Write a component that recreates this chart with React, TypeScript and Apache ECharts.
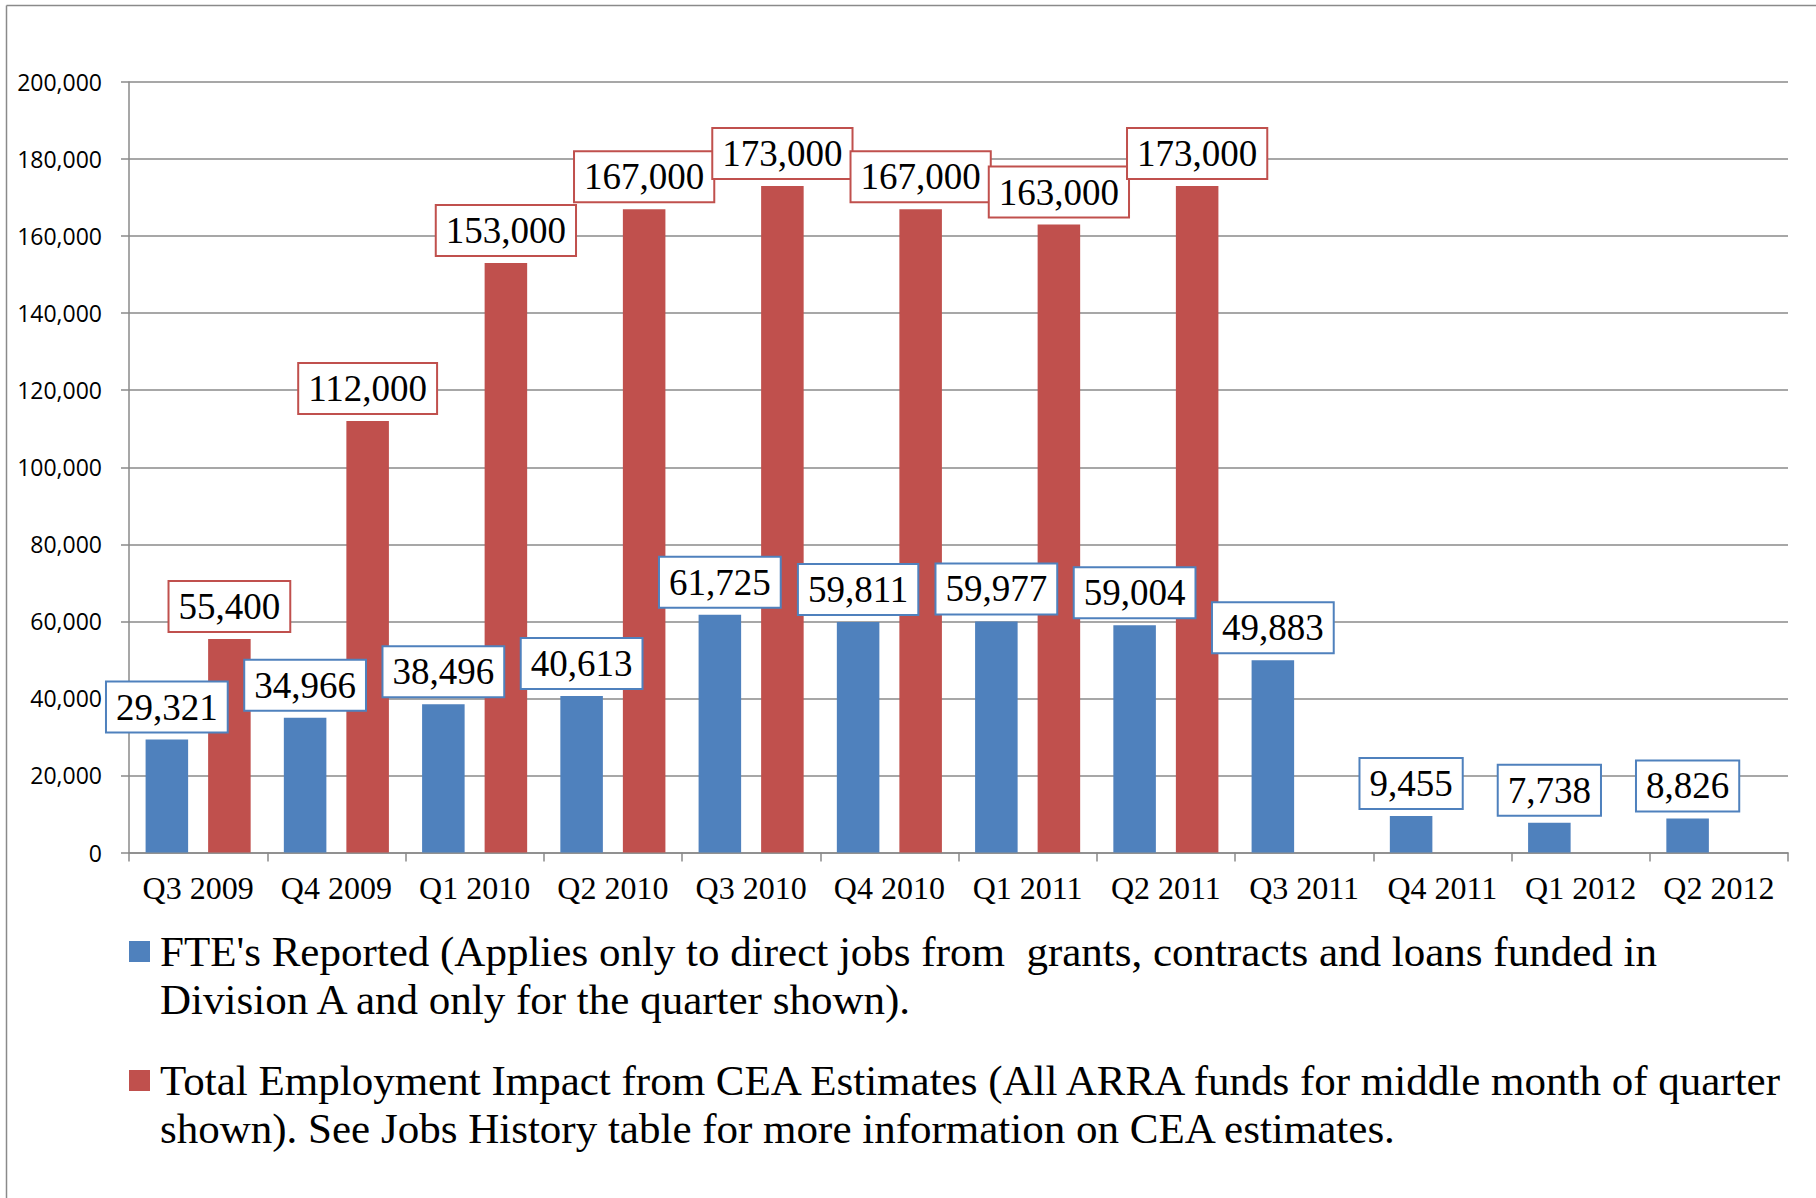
import React, { useEffect, useRef } from "react";
import * as echarts from "echarts";

const categories = [
  "Q3 2009", "Q4 2009", "Q1 2010", "Q2 2010", "Q3 2010", "Q4 2010",
  "Q1 2011", "Q2 2011", "Q3 2011", "Q4 2011", "Q1 2012", "Q2 2012",
];
const fteReported = [29321, 34966, 38496, 40613, 61725, 59811, 59977, 59004, 49883, 9455, 7738, 8826];
const ceaEstimates: (number | null)[] = [55400, 112000, 153000, 167000, 173000, 167000, 163000, 173000, null, null, null, null];

const yMin = 0;
const yMax = 200000;
const yInterval = 20000;

const fteLines = [
  "FTE's Reported (Applies only to direct jobs from  grants, contracts and loans funded in",
  "Division A and only for the quarter shown).",
];
const ceaLines = [
  "Total Employment Impact from CEA Estimates (All ARRA funds for middle month of quarter",
  "shown). See Jobs History table for more information on CEA estimates.",
];
const fteName = fteLines.join(" ");
const ceaName = ceaLines.join(" ");

const BLUE = "#4F81BD";
const RED = "#C0504D";
const GRID = "#8A8A8A";

const fmt = (v: number) => Number(v).toLocaleString("en-US");

const labelStyle = (border: string) => ({
  show: true,
  position: "top",
  distance: 8,
  formatter: (p: any) => (p.value == null ? "" : fmt(p.value)),
  fontFamily: "Liberation Serif",
  fontSize: 37,
  lineHeight: 39,
  color: "#000",
  backgroundColor: "#fff",
  borderColor: border,
  borderWidth: 2,
  padding: [5, 9, 5, 9],
});

export default function App() {
  const ref = useRef<HTMLDivElement>(null);
  useEffect(() => {
    if (!ref.current) return;
    const chart = echarts.init(ref.current, null, { renderer: "svg" });
    chart.setOption({
      animation: false,
      backgroundColor: "#fff",
      grid: { left: 129, top: 82, width: 1659, height: 770.5, outerBoundsMode: "none" },
      xAxis: {
        type: "category",
        data: categories,
        axisLine: { show: true, lineStyle: { color: GRID, width: 1.5 } },
        axisTick: { show: true, length: 9, lineStyle: { color: GRID, width: 1.5 } },
        axisLabel: {
          fontFamily: "Liberation Serif",
          fontSize: 32,
          color: "#000",
          margin: 19,
          interval: 0,
        },
      },
      yAxis: {
        type: "value",
        min: yMin,
        max: yMax,
        interval: yInterval,
        axisLine: { show: true, lineStyle: { color: GRID, width: 1.5 } },
        axisTick: { show: true, length: 8, lineStyle: { color: GRID, width: 1.5 } },
        splitLine: { show: true, lineStyle: { color: GRID, width: 1.5 } },
        axisLabel: {
          fontFamily: "Open Sans",
          fontSize: 23,
          color: "#000",
          margin: 27,
          formatter: (v: number) => fmt(v),
        },
      },
      legend: {
        orient: "vertical",
        left: 124,
        top: 874.5,
        icon: "rect",
        itemWidth: 21,
        itemHeight: 21,
        itemGap: -15,
        selectedMode: false,
        data: [fteName, ceaName],
        formatter: (name: string) => ["", ...(name === fteName ? fteLines : ceaLines)].join("\n"),
        textStyle: {
          fontFamily: "Liberation Serif",
          fontSize: 43,
          lineHeight: 48,
          color: "#000",
          padding: [0, 0, 0, 5],
        },
      },
      series: [
        {
          name: fteName,
          type: "bar",
          data: fteReported,
          itemStyle: { color: BLUE },
          barCategoryGap: "24%",
          barGap: "47%",
          label: labelStyle(BLUE),
        },
        {
          name: ceaName,
          type: "bar",
          data: ceaEstimates,
          itemStyle: { color: RED },
          barCategoryGap: "24%",
          barGap: "47%",
          label: labelStyle(RED),
        },
      ],
      graphic: [
        { type: "line", shape: { x1: 6.5, y1: 5.5, x2: 1816, y2: 5.5 }, style: { stroke: GRID, lineWidth: 1.5 } },
        { type: "line", shape: { x1: 6.5, y1: 5.5, x2: 6.5, y2: 1198 }, style: { stroke: GRID, lineWidth: 1.5 } },
      ],
    });
    return () => chart.dispose();
  }, []);
  return (
    <div
      ref={ref}
      style={{ position: "fixed", left: 0, top: 0, width: 1816, height: 1198, background: "#fff" }}
    />
  );
}
